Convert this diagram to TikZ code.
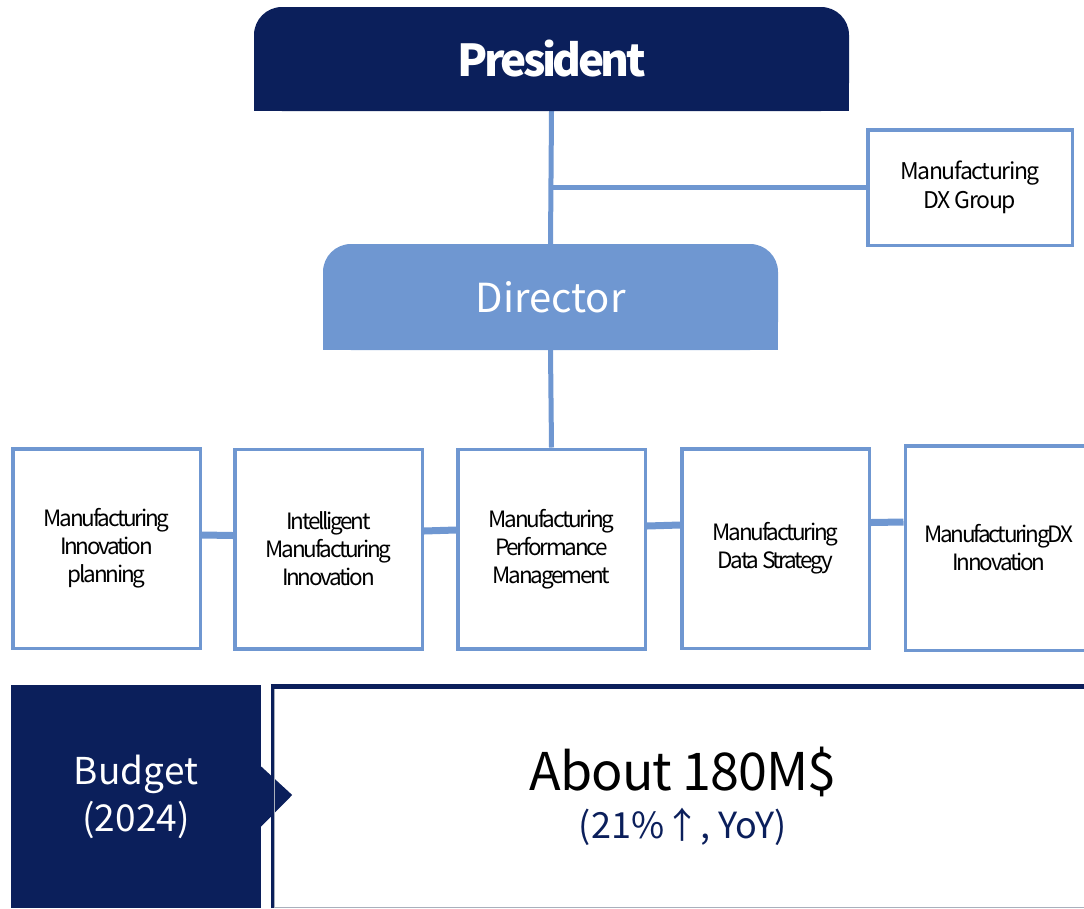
\documentclass[tikz,border=0pt]{standalone}
\usepackage{fontspec}
\setmainfont{Noto Sans CJK KR}
\newfontfamily\tightfont[LetterSpace=-10]{Noto Sans CJK KR}
\newfontfamily\grpfont[LetterSpace=-6]{Noto Sans CJK KR}
\newfontfamily\presfont[LetterSpace=-8]{Noto Sans CJK KR}
\newfontfamily\bigfont[LetterSpace=-2]{Noto Sans CJK KR}
\usetikzlibrary{backgrounds}
\definecolor{navy}{HTML}{0B1F5B}
\definecolor{lblue}{HTML}{6F97D1}
\definecolor{dgrey}{HTML}{A9B0BC}
\begin{document}
\begin{tikzpicture}[x=1pt,y=-1pt,
  conn/.style={draw=lblue, line width=5pt},
  bconn/.style={draw=lblue, line width=7pt},
  unit/.style={draw=lblue, line width=3.5pt, fill=white, minimum width=187.5pt,
    minimum height=199.5pt, inner sep=0pt, align=center,
    font=\tightfont\fontsize{22.5}{28}\selectfont},
  headbox/.style={rounded corners=28pt, inner sep=0pt, text=white},
]
\useasboundingbox (0,0) rectangle (1084,908);

% President
\node[headbox, fill=navy, minimum width=595pt, minimum height=104pt,
  font=\presfont\bfseries\fontsize{44}{50}\selectfont] (pres) at (551.5,59) {President};
\begin{scope}[on background layer]
\fill[navy] (pres.west) rectangle (pres.south east);
\end{scope}

% Director
\node[headbox, fill=lblue, minimum width=455pt, minimum height=106pt,
  font=\fontsize{40}{46}\selectfont] (dir) at (550.5,297) {Director};
\begin{scope}[on background layer]
\fill[lblue] (dir.west) rectangle (dir.south east);
\end{scope}

% Group
\node[unit, minimum width=204.5pt, minimum height=115.5pt,
  font=\grpfont\fontsize{23}{29}\selectfont] (grp) at (970,187.5)
  {Manufacturing\\DX Group};

% units
\node[unit] (b1) at (106.5,548.5) {Manufacturing\\Innovation\\planning};
\node[unit] (b2) at (328.5,549) {Intelligent\\Manufacturing\\Innovation};
\node[unit] (b3) at (551.5,549) {Manufacturing\\Performance\\Management};
\node[unit] (b4) at (775.5,548.5) {Manufacturing\\Data Strategy};
\node[unit, minimum height=204.5pt] (b5) at (999,548) {ManufacturingDX\\Innovation};

% connectors
\begin{scope}[on background layer]
\draw[conn] (pres.south) -- (dir.north);
\coordinate (tee) at (pres.south |- grp.west);
\draw[conn] (tee) -- (grp.west);
\draw[conn] (dir.south) -- (b3.north);
\end{scope}
\draw[bconn] ([yshift=13.5pt]b1.east) -- ([yshift=13.5pt]b2.west);
\draw[bconn] ([yshift=18pt]b2.east) -- ([yshift=19pt]b3.west);
\draw[bconn] ([yshift=23pt]b3.east) -- ([yshift=23.5pt]b4.west);
\draw[bconn] ([yshift=26pt]b4.east) -- ([yshift=26pt]b5.west);

% budget
\node[fill=navy, minimum width=250pt, minimum height=223pt, inner sep=0pt,
  text=white, align=center, font=\fontsize{37}{47}\selectfont] (bud) at (136,796.5)
  {Budget\\(2024)};
\fill[navy] ([yshift=30pt]bud.east) -- ([xshift=31pt,yshift=1.5pt]bud.east)
  -- ([yshift=-30pt]bud.east) -- cycle;

% amount box
\node[minimum width=813pt, minimum height=223pt, inner sep=0pt] (amt) at (677.5,796.5) {};
\draw[dgrey, line width=1.5pt] ([yshift=0.75pt]amt.south west) -- ([yshift=0.75pt]amt.south east);
\draw[dgrey, line width=1pt] ([xshift=3.5pt]amt.south west) -- ([xshift=3.5pt,yshift=-4pt]amt.north west);
\draw[navy, line width=3pt] ([xshift=1.5pt]amt.south west) -- ([xshift=1.5pt]amt.north west);
\draw[navy, line width=4.5pt] ([yshift=-1.75pt]amt.north west) -- ([yshift=-1.75pt]amt.north east);
\node[font=\bigfont\fontsize{52}{56}\selectfont, inner sep=0pt] (about) at (683,772) {About 180M\$};
\node[font=\fontsize{36}{40}\selectfont, text=navy, inner sep=0pt] (yoy) at (683,827) {(21\%↑, YoY)};
\end{tikzpicture}
\end{document}
